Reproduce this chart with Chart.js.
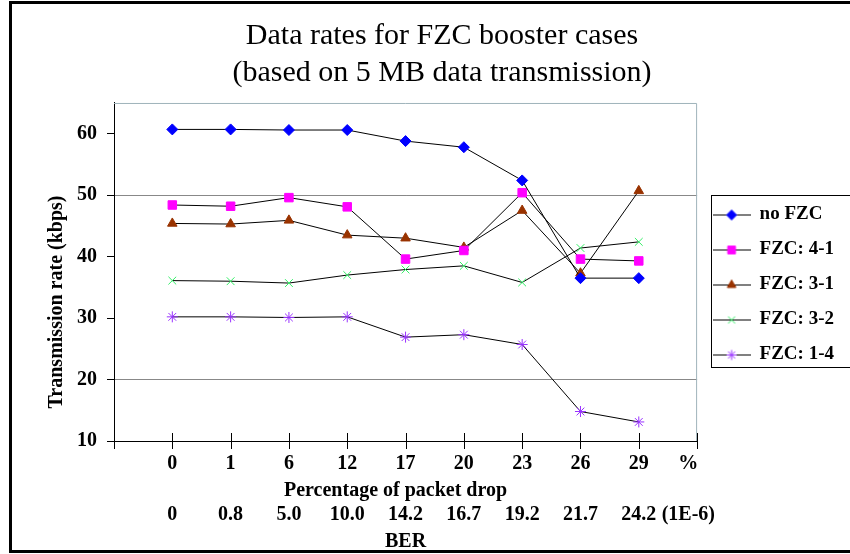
<!DOCTYPE html>
<html>
<head>
<meta charset="utf-8">
<script src="https://cdn.jsdelivr.net/npm/chart.js@4.4.1/dist/chart.umd.min.js"></script>
<style>
  html, body { margin: 0; padding: 0; background: #fff; }
  .chartBox { width: 850px; height: 554px; }
</style>
</head>
<body>
<div class="chartBox"><canvas id="myChart"></canvas></div>
<script>
// categories (two label rows under the x axis)
const dropLabels = ['0', '1', '6', '12', '17', '20', '23', '26', '29'];
const berLabels = ['0', '0.8', '5.0', '10.0', '14.2', '16.7', '19.2', '21.7', '24.2'];

// series values, kbps
const noFzc = [60.7, 60.7, 60.6, 60.6, 58.8, 57.8, 52.4, 36.5, 36.5];
const fzc41 = [48.4, 48.2, 49.6, 48.1, 39.6, 41.0, 50.4, 39.6, 39.3];
const fzc31 = [45.4, 45.3, 45.9, 43.5, 43.0, 41.5, 47.5, 37.3, 50.7];
const fzc32 = [36.1, 36.0, 35.7, 37.0, 37.9, 38.5, 35.8, 41.4, 42.4];
const fzc14 = [30.2, 30.2, 30.1, 30.2, 26.9, 27.3, 25.7, 14.8, 13.1];

// y ticks
const yTicks = [10, 20, 30, 40, 50, 60];
const yGridLines = [20, 50];

const serif = 'Liberation Serif, Times New Roman, serif';
const toPoints = (arr) => arr.map((v, i) => ({ x: i, y: v }));

function makeSet(label, values, color, style, radius) {
  return {
    label: label,
    data: toPoints(values),
    borderColor: '#000',
    borderWidth: 1,
    pointStyle: style,
    pointRadius: radius,
    pointHoverRadius: radius,
    pointBackgroundColor: color,
    pointBorderColor: color,
    pointBorderWidth: 1,
    tension: 0,
    fill: false
  };
}

const datasets = [
  makeSet('no FZC', noFzc, '#0000ff', 'rectRot', 5.5),
  makeSet('FZC: 4-1', fzc41, '#ff00ff', 'rect', 6),
  makeSet('FZC: 3-1', fzc31, '#993300', 'triangle', 5.5),
  makeSet('FZC: 3-2', fzc32, '#33ee66', 'crossRot', 5.5),
  makeSet('FZC: 1-4', fzc14, '#9933ff', 'star', 5.5)
];

// legend icons: short line with the marker in the middle
function legendIcon(ds) {
  const c = document.createElement('canvas');
  c.width = 38; c.height = 14;
  const g = c.getContext('2d');
  g.strokeStyle = '#000'; g.lineWidth = 1;
  g.beginPath(); g.moveTo(0, 7.5); g.lineTo(38, 7.5); g.stroke();
  g.fillStyle = ds.pointBackgroundColor;
  g.strokeStyle = ds.pointBorderColor;
  g.lineWidth = 1;
  Chart.helpers.drawPoint(g, { pointStyle: ds.pointStyle, radius: ds.pointRadius - 0.5, rotation: 0, borderWidth: 1 }, 19, 7.5);
  return c;
}
const icons = datasets.map(legendIcon);

const nb = (n) => '\u00A0'.repeat(n);

// frame, plot border, crossing x tick marks, legend box
const decorations = {
  id: 'decorations',
  beforeDatasetsDraw(chart) {
    const { ctx, chartArea: a } = chart;
    ctx.save();
    ctx.strokeStyle = '#9fb3bb';
    ctx.lineWidth = 1;
    ctx.beginPath();
    ctx.moveTo(a.left, a.top + 0.5);
    ctx.lineTo(a.right - 0.5, a.top + 0.5);
    ctx.lineTo(a.right - 0.5, a.bottom);
    ctx.stroke();
    ctx.restore();
  },
  afterDraw(chart) {
    const { ctx, chartArea: a } = chart;
    const x = chart.scales.x;
    ctx.save();
    ctx.strokeStyle = '#000';
    ctx.lineWidth = 1;
    ctx.beginPath();
    for (let v = -1; v <= 9; v++) {
      const px = Math.round(x.getPixelForValue(v)) + 0.5;
      ctx.moveTo(px, a.bottom - 8);
      ctx.lineTo(px, a.bottom + 8);
    }
    ctx.stroke();

    // legend box
    const boxes = chart.legend.legendHitBoxes;
    if (boxes && boxes.length) {
      const left = Math.min(...boxes.map(b => b.left));
      const top = Math.min(...boxes.map(b => b.top));
      const bottom = Math.max(...boxes.map(b => b.top + b.height));
      ctx.strokeRect(Math.round(left) - 1.5, Math.round(top) - 9.5, 200, Math.round(bottom - top) + 13);
    }

    // outer frame
    ctx.lineWidth = 3;
    ctx.strokeRect(10.5, 2.5, 900, 549);
    ctx.restore();
  }
};

const config = {
  type: 'line',
  data: { datasets },
  options: {
    responsive: true,
    maintainAspectRatio: false,
    animation: false,
    devicePixelRatio: 1,
    layout: { padding: { left: 40, right: 6, top: 15, bottom: 0 } },
    scales: {
      x: {
        type: 'linear',
        min: -1,
        max: 9,
        afterBuildTicks: (scale) => {
          scale.ticks = dropLabels.map((l, i) => ({ value: i })).concat([{ value: 8.85 }]);
        },
        ticks: {
          autoSkip: false,
          maxRotation: 0,
          padding: 3,
          color: '#000',
          font: { family: serif, size: 20, weight: 'bold' },
          callback: (v, i) => (i < dropLabels.length ? dropLabels[i] : '%')
        },
        grid: { drawOnChartArea: false, color: 'transparent', tickColor: 'transparent', tickLength: 8 },
        border: { color: '#000', width: 1 },
        title: {
          display: true,
          text: 'Percentage of packet drop' + nb(4),
          color: '#000',
          font: { family: serif, size: 20, weight: 'bold' },
          padding: { top: 0, bottom: 0 }
        }
      },
      x2: {
        type: 'linear',
        position: 'bottom',
        min: -1,
        max: 9,
        afterBuildTicks: (scale) => {
          scale.ticks = berLabels.map((l, i) => ({ value: i })).concat([{ value: 8.85 }]);
        },
        ticks: {
          autoSkip: false,
          maxRotation: 0,
          padding: 0,
          color: '#000',
          font: { family: serif, size: 20, weight: 'bold' },
          callback: (v, i) => (i < berLabels.length ? berLabels[i] : '(1E-6)')
        },
        grid: { display: false, drawTicks: false },
        border: { display: false },
        title: {
          display: true,
          text: 'BER',
          color: '#000',
          font: { family: serif, size: 20, weight: 'bold' },
          padding: { top: 3, bottom: 0 }
        }
      },
      y: {
        min: 10,
        max: 65,
        afterBuildTicks: (scale) => {
          scale.ticks = yTicks.map(v => ({ value: v }));
        },
        afterFit: (scale) => { scale.width = 74; },
        ticks: {
          padding: 10,
          color: '#000',
          font: { family: serif, size: 20, weight: 'bold' }
        },
        grid: {
          color: (c) => (yGridLines.includes(c.tick && c.tick.value) ? '#888888' : 'transparent'),
          tickColor: '#000',
          tickLength: 7
        },
        border: { color: '#000', width: 1 },
        title: {
          display: true,
          text: 'Transmission rate (kbps)' + nb(12),
          color: '#000',
          font: { family: serif, size: 20, weight: 'bold' },
          padding: { top: 5, bottom: 0 }
        }
      }
    },
    plugins: {
      title: {
        display: true,
        text: ['Data rates for FZC booster cases', '(based on 5 MB data transmission)'],
        color: '#000',
        font: { family: serif, size: 30, weight: 'normal', lineHeight: 1.233 },
        padding: { top: 3, bottom: 11 }
      },
      legend: {
        position: 'right',
        align: 'center',
        labels: {
          usePointStyle: true,
          pointStyleWidth: 37,
          padding: 16,
          color: '#000',
          font: { family: serif, size: 19, weight: 'bold' },
          generateLabels: (chart) => chart.data.datasets.map((ds, i) => ({
            text: ds.label,
            pointStyle: icons[i],
            fillStyle: ds.pointBackgroundColor,
            strokeStyle: ds.pointBorderColor,
            lineWidth: 0,
            fontColor: '#000',
            hidden: !chart.isDatasetVisible(i),
            datasetIndex: i
          }))
        }
      },
      tooltip: { enabled: false }
    }
  },
  plugins: [decorations]
};

const myChart = new Chart(document.getElementById('myChart'), config);
</script>
</body>
</html>
